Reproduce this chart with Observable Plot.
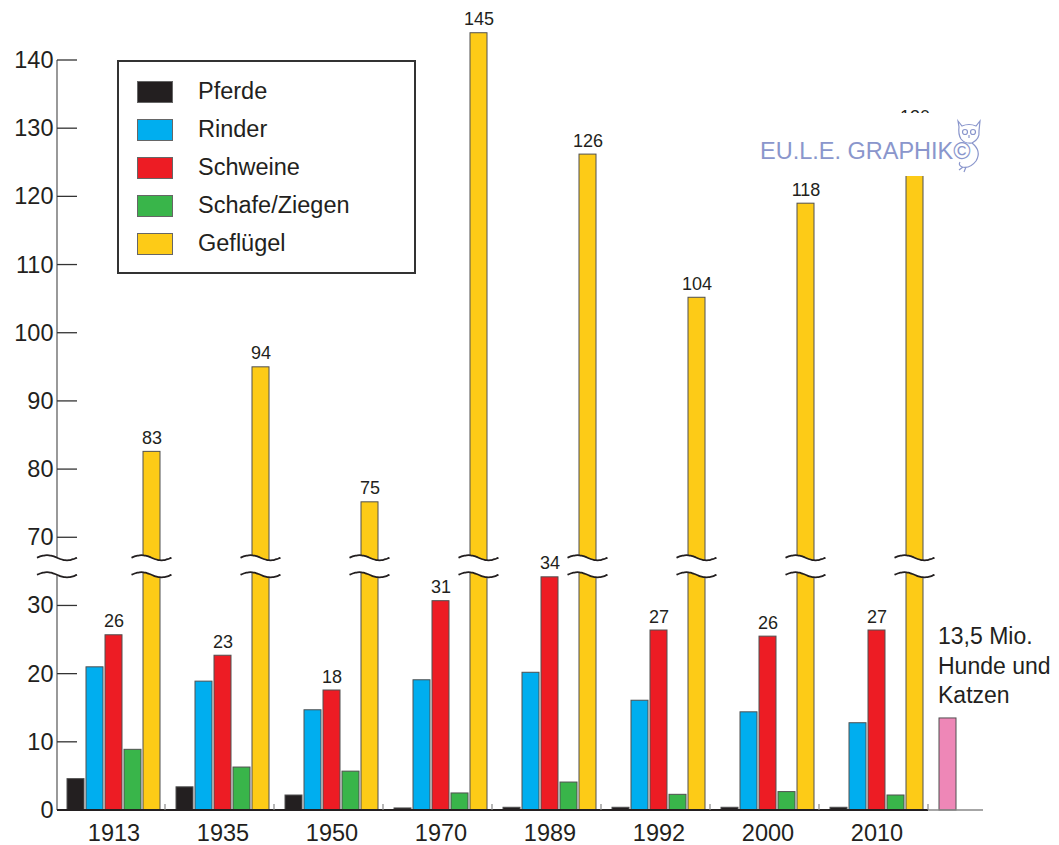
<!DOCTYPE html>
<html><head><meta charset="utf-8">
<script src="https://cdn.jsdelivr.net/npm/d3@7"></script>
<script src="https://cdn.jsdelivr.net/npm/@observablehq/plot@0.6"></script>
<style>
html,body{margin:0;padding:0;background:#fff;}
#wrap{position:relative;width:1059px;height:845px;font-family:"Liberation Sans",Arial,sans-serif;color:#231f20;}
#wrap svg{position:absolute;left:0;top:0;}
#legend{position:absolute;left:117px;top:60px;width:295px;height:210px;border:2px solid #333;background:#fff;}
#legend .row{position:absolute;left:0;height:22px;}
#legend .sw{position:absolute;left:18px;top:0;width:34px;height:20px;border:1px solid #666;}
#legend .lb{position:absolute;left:79px;top:-1px;font-size:23.5px;line-height:23.5px;white-space:nowrap;}
#wm{position:absolute;left:750px;top:113px;width:232px;height:63px;background:#fff;}
#wm span{position:absolute;left:10px;top:27px;font-size:23.5px;line-height:23.5px;color:#8a96cc;white-space:nowrap;}
#wm svg{position:absolute;left:204px;top:4px;}
</style></head>
<body><div id="wrap"></div>
<script>
// ---- data ----
const years = ["1913","1935","1950","1970","1989","1992","2000","2010"];
const animals = ["Pferde","Rinder","Schweine","Schafe/Ziegen","Geflügel"];
const animalColors = ["#231f20","#00aeef","#ed1c24","#39b54a","#fdcb17"];
const pferde    = [4.6, 3.4, 2.2, 0.3, 0.4, 0.4, 0.4, 0.4];
const rinder    = [21.0, 18.9, 14.7, 19.1, 20.2, 16.1, 14.4, 12.8];
const schweine  = [25.7, 22.7, 17.6, 30.7, 34.2, 26.4, 25.5, 26.4];
const schafe    = [8.9, 6.3, 5.7, 2.5, 4.1, 2.3, 2.7, 2.2];
const gefluegel = [82.6, 95.0, 75.2, 144.0, 126.2, 105.2, 119.0, 129.7];
const schweineLabels  = ["26","23","18","31","34","27","26","27"];
const gefluegelLabels = ["83","94","75","145","126","104","118","130"];
const petsGroup = "Hunde/Katzen";
const petsValue = 13.5;
const petsColor = "#ee87b7";
const petsText = ["13,5 Mio.","Hunde und","Katzen"];
const yTicksReal = [0,10,20,30,70,80,90,100,110,120,130,140];
const breakFrom = 30, breakTo = 70, breakShift = 30;   // axis gap: 30 … 70
const waveLowReal = 34.5, waveHighReal = 67.0;          // where the two wavy cut lines sit

// broken axis: values above the gap are shifted down
const toV = v => v > (breakFrom + breakTo) / 2 ? v - breakShift : v;
const fromV = v => v > breakFrom ? v + breakShift : v;

const series = [pferde, rinder, schweine, schafe, gefluegel];
const rows = [];
years.forEach((yr, i) => animals.forEach((a, j) => rows.push({year: yr, animal: a, value: series[j][i], v: toV(series[j][i])})));
const labelRows = [];
years.forEach((yr, i) => {
  labelRows.push({year: yr, animal: "Schweine", v: toV(schweine[i]), t: schweineLabels[i]});
  labelRows.push({year: yr, animal: "Geflügel", v: toV(gefluegel[i]), t: gefluegelLabels[i]});
});
const pets = [{year: petsGroup, animal: animals[0], v: toV(petsValue), t: petsText.join("\n")}];

const FONT = "'Liberation Sans', Arial, sans-serif";
const plot = Plot.plot({
  width: 1059, height: 845,
  marginLeft: 58, marginRight: 18, marginTop: 60, marginBottom: 35,
  style: {fontFamily: FONT, background: "transparent", color: "#231f20", overflow: "visible"},
  fx: {domain: [...years, petsGroup], padding: 0, label: null},
  x: {domain: animals, paddingInner: 0.13, paddingOuter: 0.35, axis: null},
  y: {domain: [0, 110], axis: null},
  color: {domain: animals, range: animalColors},
  marks: [
    Plot.barY(rows, {fx: "year", x: "animal", y: "v", fill: "animal", stroke: "#505050", strokeWidth: 1}),
    Plot.barY(pets, {fx: "year", x: "animal", y: "v", fill: petsColor, stroke: "#505050", strokeWidth: 1}),
    Plot.text(labelRows, {fx: "year", x: "animal", y: "v", text: "t", dy: -8, lineAnchor: "bottom", fontSize: 18, fill: "#231f20"}),
    Plot.text(pets, {fx: "year", x: "animal", y: "v", text: "t", textAnchor: "start", lineAnchor: "bottom", dx: -10, dy: -15, fontSize: 23, lineHeight: 1.3, fill: "#231f20"}),
    Plot.axisFx({anchor: "bottom", tickSize: 0, tickPadding: 14, fontSize: 23.5, label: null, tickFormat: d => years.includes(d) ? d : "", fill: "#231f20"}),
    Plot.axisY({ticks: yTicksReal.map(toV), tickFormat: d => String(fromV(d)), tickSize: 0, tickPadding: 6, fontSize: 23.5, label: null, fill: "#231f20"})
  ]
});
document.getElementById("wrap").appendChild(plot);

// ---- decorations computed from the plot's scales ----
const svg = d3.select(plot);
const fxS = plot.scale("fx"), xS = plot.scale("x"), yS = plot.scale("y");
const xOrigin = Math.min(...xS.range);
const bw = xS.bandwidth;
const barLeft = (g, a) => fxS.apply(g) + xS.apply(a) - xOrigin;
const axisX = Math.min(...fxS.range) - 1;
const y0 = yS.apply(0), yTop = yS.apply(toV(140));
const yWaveLow = yS.apply(toV(waveLowReal)), yWaveHigh = yS.apply(toV(waveHighReal));
const deco = svg.append("g");

// y axis line with gap
deco.append("line").attr("x1", axisX).attr("x2", axisX).attr("y1", y0).attr("y2", yWaveLow).attr("stroke", "#808080").attr("stroke-width", 1.6);
deco.append("line").attr("x1", axisX).attr("x2", axisX).attr("y1", yWaveHigh).attr("y2", yTop).attr("stroke", "#808080").attr("stroke-width", 1.6);
// y ticks pointing inward
yTicksReal.forEach(t => {
  const yy = yS.apply(toV(t));
  deco.append("line").attr("x1", axisX).attr("x2", axisX + 20).attr("y1", yy).attr("y2", yy).attr("stroke", "#333").attr("stroke-width", 1.3);
});
// baseline
const petsStart = fxS.apply(petsGroup);
const petsBarRight = barLeft(petsGroup, animals[0]) + bw;
deco.append("line").attr("x1", axisX).attr("x2", petsStart - 3).attr("y1", y0).attr("y2", y0).attr("stroke", "#231f20").attr("stroke-width", 2.2);
deco.append("line").attr("x1", petsStart - 3).attr("x2", petsBarRight + 27).attr("y1", y0).attr("y2", y0).attr("stroke", "#888").attr("stroke-width", 1.5);
// small group separators
[...years.slice(1), petsGroup].forEach(g => {
  const xx = fxS.apply(g) - 3;
  deco.append("line").attr("x1", xx).attr("x2", xx).attr("y1", y0).attr("y2", y0 - 6).attr("stroke", "#888").attr("stroke-width", 1.2);
});
// wavy breaks
function wavePts(cx, yy) {
  const pts = [];
  for (let k = 0; k <= 20; k++) { const t = k / 20; pts.push([cx - 20 + 40 * t, yy - 2.6 * Math.sin(2 * Math.PI * t)]); }
  return pts;
}
function drawBreak(cx) {
  const top = wavePts(cx, yWaveHigh), bot = wavePts(cx, yWaveLow);
  const poly = top.concat(bot.slice().reverse());
  deco.append("path").attr("d", "M" + poly.map(p => p.join(",")).join("L") + "Z").attr("fill", "#fff");
  const line = d3.line().curve(d3.curveBasis);
  [top, bot].forEach(p => deco.append("path").attr("d", line(p)).attr("fill", "none").attr("stroke", "#231f20").attr("stroke-width", 1.8));
}
drawBreak(axisX);
years.forEach(yr => drawBreak(barLeft(yr, "Geflügel") + bw / 2));

// ---- legend ----
const lg = document.createElement("div"); lg.id = "legend";
animals.forEach((a, i) => {
  const r = document.createElement("div"); r.className = "row"; r.style.top = (19 + i * 38) + "px";
  const sw = document.createElement("div"); sw.className = "sw"; sw.style.background = animalColors[i];
  const lb = document.createElement("div"); lb.className = "lb"; lb.textContent = a;
  r.appendChild(sw); r.appendChild(lb); lg.appendChild(r);
});
document.getElementById("wrap").appendChild(lg);

// ---- watermark ----
const wm = document.createElement("div"); wm.id = "wm";
wm.innerHTML = '<span>EU.L.E. GRAPHIK©</span>' +
  '<svg width="30" height="56" viewBox="0 0 30 56" fill="none" stroke="#8a96cc" stroke-width="1.2">' +
  '<path d="M4,4 L8,9 Q15,6 22,9 L26,4 L25,14 Q26,22 18,26 Q11,27 7,22 Q4,17 5,10 Z"/>' +
  '<circle cx="11" cy="15" r="2.5"/><circle cx="19" cy="15" r="2.5"/><path d="M15,18 L15,21"/>' +
  '<path d="M18,26 Q28,34 22,44 Q16,52 8,50 Q4,48 6,45"/><path d="M9,50 L5,53 M12,50 L10,55"/></svg>';
document.getElementById("wrap").appendChild(wm);
</script>
</body></html>
